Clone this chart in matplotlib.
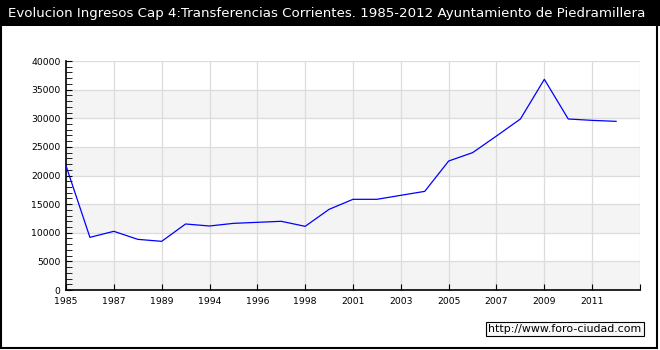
import matplotlib
matplotlib.use("Agg")
import matplotlib.pyplot as plt
from matplotlib.patches import Rectangle
from matplotlib.ticker import MultipleLocator

years = ['1985', '1986', '1987', '1988', '1989', '1993', '1994', '1995',
         '1996', '1997', '1998', '2000', '2001', '2002', '2003', '2004',
         '2005', '2006', '2007', '2008', '2009', '2010', '2011', '2012']
ingresos = [21700, 9200, 10250, 8850, 8500, 11530, 11180, 11640,
            11820, 12000, 11120, 14090, 15840, 15840, 16540, 17230,
            22530, 23990, 26900, 29870, 36800, 29870, 29630, 29460]

title = 'Evolucion Ingresos Cap 4:Transferencias Corrientes. 1985-2012 Ayuntamiento de Piedramillera'
watermark = 'http://www.foro-ciudad.com'

W, H = 660, 350
fig = plt.figure(figsize=(W / 100, H / 100), dpi=100, facecolor='white')

# black title band and black frame
fig.patches.append(Rectangle((0, 1 - 26 / H), 1, 26 / H, transform=fig.transFigure,
                             facecolor='black', edgecolor='none', zorder=0))
fig.patches.append(Rectangle((1 / W, 2 / H), 656 / W, (H - 26) / H, transform=fig.transFigure,
                             facecolor='none', edgecolor='black', linewidth=1.5, zorder=1))
fig.text(8 / W, 1 - 13 / H, title, color='white', fontsize=9.6, va='center', ha='left')

ax = fig.add_axes([66 / W, 1 - 290 / H, (640 - 66) / W, (290 - 61) / H])

x = list(range(len(years)))
ax.set_xlim(0, len(years))
ax.set_ylim(0, 40000)

# alternating bands
for lo in range(0, 40000, 10000):
    ax.axhspan(lo, lo + 5000, facecolor='#f4f4f4', edgecolor='none', zorder=0)

ax.plot(x, ingresos, color='#0000ff', linewidth=0.9, zorder=3)

ax.set_xticks(list(range(0, len(years) + 1, 2)))
ax.set_xticklabels(years[::2] + [''])
ax.yaxis.set_major_locator(MultipleLocator(5000))
ax.yaxis.set_minor_locator(MultipleLocator(1000))

ax.grid(True, which='major', color='#dcdcdc', linewidth=0.9, zorder=1)
ax.set_axisbelow(True)
ax.tick_params(axis='both', which='both', direction='in', labelsize=6.7, color='black')
ax.tick_params(axis='y', which='major', length=4, pad=4)
ax.tick_params(axis='y', which='minor', length=4)
ax.tick_params(axis='x', length=4, pad=5)

for s in ['top', 'right']:
    ax.spines[s].set_visible(False)
for s in ['left', 'bottom']:
    ax.spines[s].set_linewidth(1.2)

fig.text(565 / W, 1 - 329 / H, watermark, fontsize=7.9, ha='center', va='center',
         bbox=dict(boxstyle='square,pad=0.2', facecolor='#f8f8f8', edgecolor='black', linewidth=0.8))

fig.savefig('out.png', dpi=100, facecolor='white')
